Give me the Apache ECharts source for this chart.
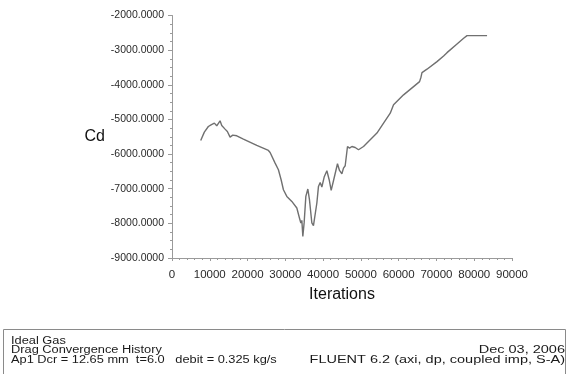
<!DOCTYPE html>
<html>
<head>
<meta charset="utf-8">
<title>Drag Convergence History</title>
<script src="https://cdn.jsdelivr.net/npm/echarts@6/dist/echarts.min.js"></script>
<style>
  html, body { margin: 0; padding: 0; background: #ffffff; }
  #chart { width: 567px; height: 374px; }
</style>
</head>
<body>
<div id="chart"></div>
<script>
// Iteration numbers of the sampled Cd history
const iterations = [
  7600, 8560, 9620, 10335, 11210, 11846, 12720, 13170, 14045, 14655,
  15370, 16085, 17145, 18895, 22445, 25520, 25970, 27295, 28170, 28885,
  29495, 30395, 31720, 33045, 33735, 34105, 34370, 34635, 34980, 35430,
  35960, 36385, 37020, 37445, 37895, 38345, 38770, 39220, 39670, 40280,
  40995, 41605, 42135, 42745, 43195, 43805, 44335, 44970, 45395, 45845,
  46455, 46985, 47620, 48495, 49370, 50695, 52470, 54245, 56000, 57770,
  58645, 61295, 63945, 65535, 65905, 66170, 67495, 70145, 71895, 72795,
  75445, 77195, 78095, 83395
];

// Cd value at each of those iterations
const cdValues = [
  -5608, -5366, -5205, -5156, -5107, -5185, -5040, -5176, -5280, -5349,
  -5510, -5453, -5473, -5568, -5752, -5896, -5954, -6260, -6453, -6741,
  -7029, -7222, -7366, -7557, -7845, -7989, -7914, -8375, -7980, -7222,
  -7009, -7317, -7989, -8067, -8087, -7412, -6934, -6819, -6951, -6663,
  -6482, -6741, -7049, -6770, -6790, -6280, -6473, -6568, -6404, -6337,
  -5781, -5827, -5781, -5810, -5876, -5781, -5588, -5395, -5107, -4819,
  -4579, -4291, -4052, -3908, -3781, -3648, -3550, -3331, -3167, -3072,
  -2821, -2657, -2582, -2582
];

// Axis ranges
const xRange = [0, 90000, 10000];
const yRange = [-9000, -2000, 1000];

// Footer report lines
const footerLeft = ['Ideal Gas', 'Drag Convergence History', 'Ap1 Dcr = 12.65 mm  t=6.0   debit = 0.325 kg/s'];
const footerRight = ['Dec 03, 2006', 'FLUENT 6.2 (axi, dp, coupled imp, S-A)'];

const seriesData = iterations.map((it, i) => [it, cdValues[i]]);

const axisGray = '#9a9a9a';
const labelColor = '#2a2a2a';
const textColor = '#1a1a1a';
const fontFamily = '"Liberation Sans", Arial, Helvetica, sans-serif';

const chart = echarts.init(document.getElementById('chart'), null, { renderer: 'canvas' });

// Footer text, stretched horizontally like the report font
function footerText(t, x, y, align, sx) {
  return {
    type: 'text',
    x: x,
    y: y,
    scaleX: sx,
    style: {
      text: t, fontFamily, fontSize: 10, fill: textColor,
      align: align, verticalAlign: 'middle'
    },
    silent: true
  };
}

chart.setOption({
  backgroundColor: '#ffffff',
  animation: false,
  grid: { left: 172, right: 55, top: 15.5, bottom: 116, containLabel: false },
  xAxis: {
    type: 'value',
    min: xRange[0], max: xRange[1], interval: xRange[2],
    name: 'Iterations',
    nameLocation: 'middle',
    nameGap: 29,
    nameTextStyle: { fontFamily, fontSize: 16, color: '#111' },
    axisLine: { show: true, onZero: false, lineStyle: { color: axisGray, width: 1 } },
    axisTick: { show: true, length: 3, lineStyle: { color: axisGray } },
    minorTick: { show: true, splitNumber: 5, length: 2, lineStyle: { color: axisGray } },
    splitLine: { show: false },
    axisLabel: {
      fontFamily, fontSize: 11.5, color: labelColor, margin: 11,
      formatter: v => String(v)
    }
  },
  yAxis: {
    type: 'value',
    min: yRange[0], max: yRange[1], interval: yRange[2],
    name: 'Cd',
    nameLocation: 'middle',
    nameRotate: 0,
    nameGap: 67,
    nameTextStyle: { fontFamily, fontSize: 16, color: '#111', padding: [0, 0, -4, 0] },
    axisLine: { show: true, lineStyle: { color: axisGray, width: 1 } },
    axisTick: { show: true, length: 4, lineStyle: { color: axisGray } },
    minorTick: { show: true, splitNumber: 4, length: 2, lineStyle: { color: axisGray } },
    splitLine: { show: false },
    axisLabel: {
      fontFamily, fontSize: 10.5, color: labelColor, margin: 8,
      formatter: v => v.toFixed(4)
    }
  },
  series: [{
    type: 'line',
    data: seriesData,
    showSymbol: false,
    smooth: false,
    lineStyle: { color: '#707070', width: 1.4 }
  }],
  graphic: [
    {
      type: 'rect',
      shape: { x: 3.5, y: 329.5, width: 562, height: 60 },
      style: { fill: 'none', stroke: '#8a8a8a', lineWidth: 1 },
      silent: true
    },
    ...footerLeft.map((t, i) => footerText(t, 11, 341.5 + i * 9.2, 'left', 1.28)),
    ...footerRight.map((t, i) => footerText(t, 565, 350.7 + i * 9.2, 'right', 1.45))
  ]
});
</script>
</body>
</html>
